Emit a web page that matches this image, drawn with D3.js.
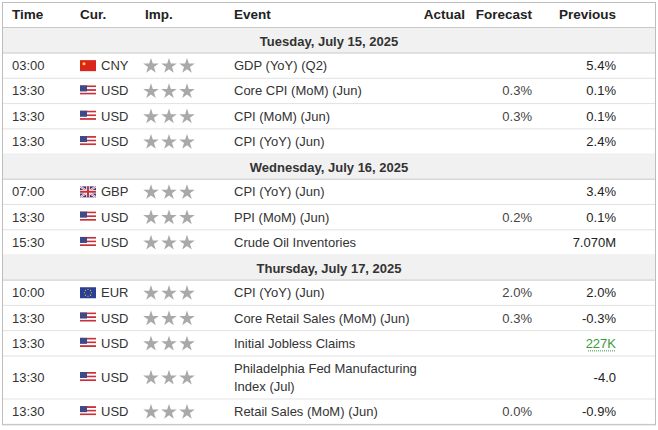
<!DOCTYPE html><html><head><meta charset="utf-8"><script src="https://cdn.jsdelivr.net/npm/d3@7"></script>
<style>body{margin:0;background:#fff}text{font-family:"Liberation Sans",Arial,sans-serif}</style></head><body><svg id="c" width="658" height="430"></svg>
<script>
const headers=["Time","Cur.","Imp.","Event","Actual","Forecast","Previous"];
const dates=["Tuesday, July 15, 2025","Wednesday, July 16, 2025","Thursday, July 17, 2025"];
const dayIndex=[0,0,0,0,1,1,1,2,2,2,2,2];
const times=["03:00","13:30","13:30","13:30","07:00","13:30","15:30","10:00","13:30","13:30","13:30","13:30"];
const currencies=["CNY","USD","USD","USD","GBP","USD","USD","EUR","USD","USD","USD","USD"];
const events=["GDP (YoY) (Q2)","Core CPI (MoM) (Jun)","CPI (MoM) (Jun)","CPI (YoY) (Jun)","CPI (YoY) (Jun)","PPI (MoM) (Jun)","Crude Oil Inventories","CPI (YoY) (Jun)","Core Retail Sales (MoM) (Jun)","Initial Jobless Claims","Philadelphia Fed Manufacturing|Index (Jul)","Retail Sales (MoM) (Jun)"];
const forecasts=["","0.3%","0.3%","","","0.2%","","2.0%","0.3%","","","0.0%"];
const previous=["5.4%","0.1%","0.1%","2.4%","3.4%","0.1%","7.070M","2.0%","-0.3%","227K","-4.0","-0.9%"];
const svg=d3.select("#c");
const rows=[{type:"head",h:26}];
let last=-1;
events.forEach((e,i)=>{if(dayIndex[i]!==last){rows.push({type:"date",h:25,d:dates[dayIndex[i]]});last=dayIndex[i];}
 rows.push({type:"ev",i,h:e.includes("|")?43:25.3});});
const ys=[2,...d3.cumsum(rows.map(r=>r.h)).map(v=>v+2)];
rows.forEach((r,k)=>{r.y=ys[k];});
const x=d3.scaleOrdinal().domain(headers).range([12,80,145,234,465,532,616]);
const g=svg.append("g");
rows.forEach(r=>{
 if(r.type==="date"){g.append("rect").attr("x",2).attr("y",r.y).attr("width",654).attr("height",r.h).attr("fill","#f1f1f1");
  g.append("text").attr("x",329).attr("y",r.y+r.h/2+5).attr("text-anchor","middle").attr("font-size",13).attr("font-weight","bold").attr("fill","#333").text(r.d);}
 g.append("line").attr("x1",2).attr("x2",656).attr("y1",r.y+r.h).attr("y2",r.y+r.h).attr("stroke",r.type==="head"||r.type==="date"?"#c8c8c8":"#e2e2e2").attr("stroke-width",r.type==="head"?2:1);
});
const hr=rows[0];
headers.forEach((h,k)=>{g.append("text").attr("x",k===1?80:x(h)).attr("y",hr.y+17).attr("font-size",13.5).attr("font-weight","bold").attr("fill","#222")
 .attr("text-anchor",k>=4?"end":"start").text(h);});
function flag(c,x0,y0){const f=g.append("g").attr("transform",`translate(${x0},${y0})`);const w=16,h=11;
 if(c==="CNY"){f.append("rect").attr("width",w).attr("height",h).attr("fill","#d9251c");f.append("circle").attr("cx",4).attr("cy",3.5).attr("r",1.5).attr("fill","#ffde00");}
 else if(c==="USD"){for(let s=0;s<6;s++)f.append("rect").attr("y",s*h/6).attr("width",w).attr("height",h/6).attr("fill",s%2?"#fff":"#c8303c");f.append("rect").attr("width",7).attr("height",6).attr("fill","#3c4a8a");}
 else if(c==="GBP"){f.append("rect").attr("width",w).attr("height",h).attr("fill","#2b3f82");f.append("path").attr("d",`M0,0L${w},${h}M${w},0L0,${h}`).attr("stroke","#fff").attr("stroke-width",2);f.append("path").attr("d",`M0,0L${w},${h}M${w},0L0,${h}`).attr("stroke","#c8303c").attr("stroke-width",0.7);f.append("path").attr("d",`M${w/2},0V${h}M0,${h/2}H${w}`).attr("stroke","#fff").attr("stroke-width",3.5);f.append("path").attr("d",`M${w/2},0V${h}M0,${h/2}H${w}`).attr("stroke","#c8303c").attr("stroke-width",2);}
 else {f.append("rect").attr("width",w).attr("height",h).attr("fill","#2a3f96");d3.range(8).forEach(a=>f.append("circle").attr("cx",w/2+3.5*Math.cos(a*Math.PI/4)).attr("cy",h/2+3.5*Math.sin(a*Math.PI/4)).attr("r",0.6).attr("fill","#f5d000"));}
}
const star=d3.symbol().type(d3.symbolStar).size(75);
rows.filter(r=>r.type==="ev").forEach(r=>{const i=r.i,cy=r.y+r.h/2,ty=cy+4.5;
 g.append("text").attr("x",x("Time")).attr("y",ty).attr("font-size",13).attr("fill","#333").text(times[i]);
 flag(currencies[i],80,cy-5.5);
 g.append("text").attr("x",101).attr("y",ty).attr("font-size",13).attr("fill","#333").text(currencies[i]);
 [151,169,187].forEach(sx=>g.append("path").attr("d",star).attr("transform",`translate(${sx},${cy+0.5})`).attr("fill","#a9a9a9"));
 const parts=events[i].split("|");
 parts.forEach((p,k)=>g.append("text").attr("x",x("Event")).attr("y",ty+(k-(parts.length-1)/2)*18).attr("font-size",13).attr("fill","#333").text(p));
 if(forecasts[i])g.append("text").attr("x",x("Forecast")).attr("y",ty).attr("text-anchor","end").attr("font-size",13).attr("fill","#444").text(forecasts[i]);
 const isGreen=previous[i]==="227K";
 g.append("text").attr("x",x("Previous")).attr("y",ty).attr("text-anchor","end").attr("font-size",13).attr("fill",isGreen?"#3a9b3a":"#222").text(previous[i]);
 if(isGreen){g.append("line").attr("x1",x("Previous")-28).attr("x2",x("Previous")).attr("y1",ty+3).attr("y2",ty+3).attr("stroke","#3a9b3a").attr("stroke-dasharray","1,1");}
});
g.append("rect").attr("x",2.5).attr("y",2.5).attr("width",653).attr("height",ys[ys.length-1]-2).attr("fill","none").attr("stroke","#bdbdbd");
</script></body></html>
